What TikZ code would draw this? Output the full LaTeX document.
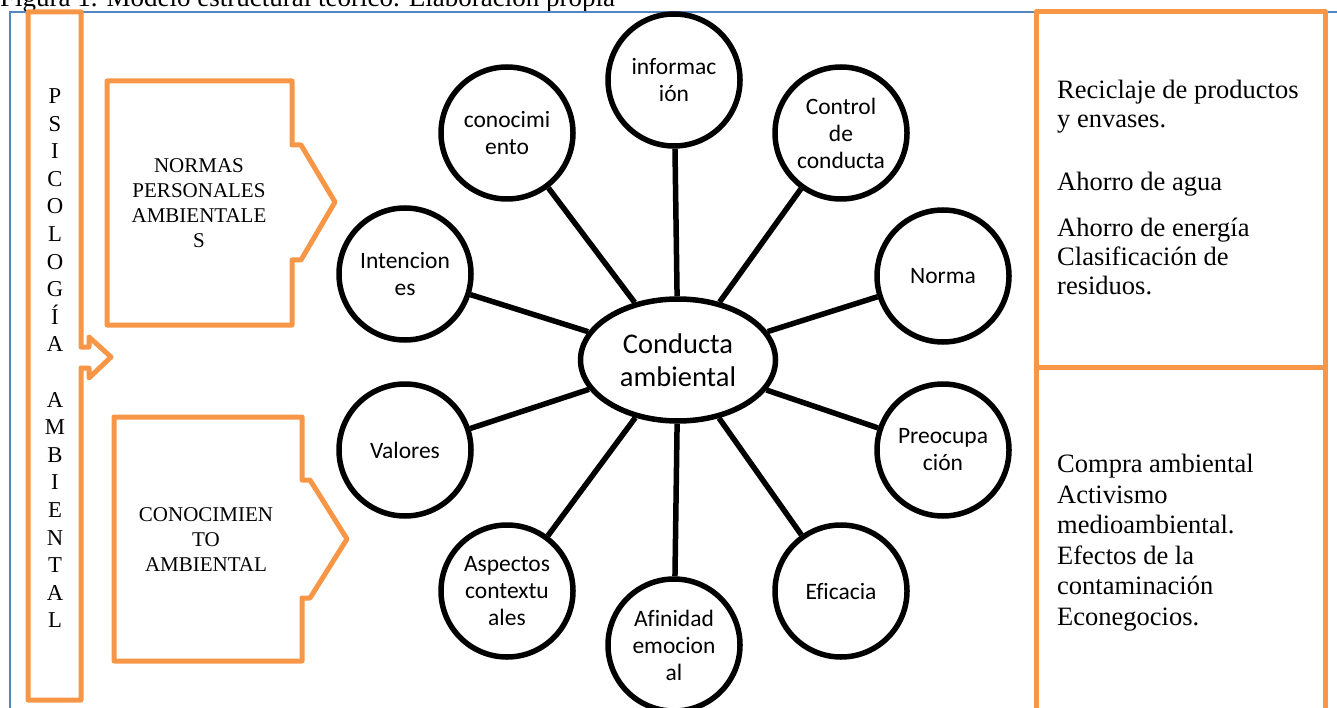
\documentclass[tikz,border=0pt]{standalone}
\usepackage{fontspec}
\setmainfont[Ligatures=NoCommon]{Liberation Serif}
\newfontfamily\calfont[Ligatures=NoCommon]{Carlito}
\usetikzlibrary{shapes.geometric}
\definecolor{og}{RGB}{247,150,70}
\definecolor{bl}{RGB}{84,134,196}
\tikzset{
  orangeline/.style={draw=og, line width=5pt, line join=round},
  circ/.style={circle, draw, line width=5.5pt, minimum size=132pt, inner sep=0pt, align=center,
    font=\calfont\fontsize{23.5}{27}\selectfont},
  hub/.style={ellipse, draw, line width=5.5pt, minimum width=195pt, minimum height=122pt, inner sep=0pt,
    align=center, font=\calfont\fontsize{28.5}{33}\selectfont},
  spoke/.style={line width=5.5pt},
  barletter/.style={anchor=base, inner sep=0pt, font=\fontsize{22.7}{27}\selectfont},
  boxtext/.style={align=center, inner sep=0pt, font=\fontsize{21}{25}\selectfont},
  righttext/.style={anchor=north west, align=left, inner sep=0pt, font=\fontsize{26.5}{29}\selectfont}
}
\begin{document}
\begin{tikzpicture}[x=1pt,y=-1pt]
\useasboundingbox (0,0) rectangle (1337,708);
\clip (0,0) rectangle (1337,708);

% caption (cut at the top, as in the reference)
\node[anchor=base west, inner sep=0pt, font=\fontsize{27}{30}\selectfont] (caption) at (0,7)
  {Figura 1. Modelo estructural teórico. Elaboración propia};

% blue frame
\draw[bl, line width=1.5pt] (10,720) -- (10,12) -- (1345,12);

% left vertical bar with its small arrow
\draw[orangeline] (28,12) -- (81,12) -- (81,347) -- (89,347) -- (89,337) -- (111,357)
  -- (89,378) -- (89,368) -- (81,368) -- (81,700) -- (28,700) -- cycle;
\foreach \l [count=\i] in {P,S,I,C,O,L,O,G,Í,A}
  \node[barletter] (bar\i) at (55,{103.5+27.6*(\i-1)}) {\l};
\foreach \l [count=\i from 12] in {A,M,B,I,E,N,T,A,L}
  \node[barletter] (bar\i) at (55,{103.5+27.6*(\i-1)}) {\l};

% NORMAS box
\draw[orangeline] (107,81) -- (292,81) -- (292,145) -- (301,145) -- (335,202) -- (301,260)
  -- (292,260) -- (292,325) -- (107,325) -- cycle;
\node[boxtext] (normas) at (199,203.5) {NORMAS\\PERSONALES\\AMBIENTALE\\S};

% CONOCIMIENTO box
\draw[orangeline] (114,417) -- (302,417) -- (302,480) -- (310,480) -- (347,539) -- (310,598)
  -- (302,598) -- (302,661) -- (114,661) -- cycle;
\node[boxtext] (conoc) at (206,540) {CONOCIMIEN\\TO\\AMBIENTAL};

% right boxes
\draw[orangeline] (1036,12) rectangle (1325,367);
\draw[orangeline] (1036,367) rectangle (1325,730);
\node[righttext] (r1) at (1057,80) {Reciclaje de productos\\y envases.};
\node[righttext] (r2) at (1057,172) {Ahorro de agua};
\node[righttext] (r3) at (1057,218) {Ahorro de energía\\Clasificación de\\residuos.};
\node[righttext, font=\fontsize{26.5}{30.6}\selectfont] (r4) at (1057,454)
  {Compra ambiental\\Activismo\\medioambiental.\\Efectos de la\\contaminación\\Econegocios.};

% hub and circles
\node[hub] (hub) at (678,360) {Conducta\\ambiental};
\node[circ] (inf) at (674,80) {informac\\ión};
\node[circ] (con) at (507,133) {conocimi\\ento};
\node[circ] (ctl) at (841,133) {Control\\de\\conducta};
\node[circ] (int) at (405,274) {Intencion\\es};
\node[circ] (nor) at (943,276) {Norma};
\node[circ] (val) at (405,450) {Valores};
\node[circ] (pre) at (943,450) {Preocupa\\ción};
\node[circ] (asp) at (507,591) {Aspectos\\contextu\\ales};
\node[circ] (efi) at (841,591) {Eficacia};
\node[circ] (afi) at (674,645) {Afinidad\\emocion\\al};

\foreach \n in {inf,con,ctl,int,nor,val,pre,asp,efi,afi}
  \draw[spoke] (hub) -- (\n);
\end{tikzpicture}
\end{document}
